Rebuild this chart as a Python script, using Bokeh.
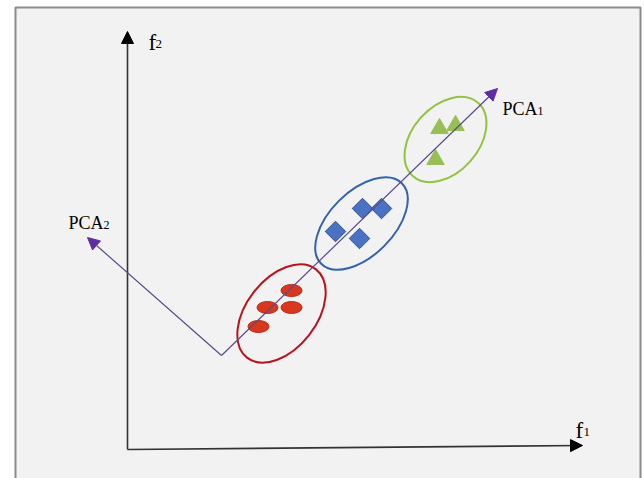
from bokeh.plotting import figure
from bokeh.models import Arrow, NormalHead, Range1d
from bokeh.core.properties import value
from bokeh.embed import file_html
from bokeh.resources import INLINE
import math

# --- data (feature space f1, f2) ---
red_f1 = [164, 140, 164, 131]
red_f2 = [159, 142, 142, 123]
blue_f1 = [235, 254, 208, 232]
blue_f2 = [241, 241, 218, 211]
green_f1 = [312, 328, 308]
green_f2 = [321, 324, 290]

cluster_x = [154, 234, 318]
cluster_y = [136, 226, 310]
cluster_w = [112, 114, 98]
cluster_h = [70, 64, 66]
cluster_angle_deg = [52, 45, 48]
cluster_color = ["#b8141c", "#3462ad", "#93c23f"]

pca_origin = (94, 94)
pca1_tip = (370, 361)
pca2_tip = (-40, 212)
f1_tip = (455, 4)
f2_tip = (0, 418)

labels_main = ["f", "f", "PCA", "PCA"]
labels_sub = ["1", "2", "1", "2"]

# background panel bounds (decoration)
panel_left, panel_right, panel_top, panel_bottom = -112, 513, 442, -60

W, H = 644, 478
p = figure(width=W, height=H, output_backend="svg", toolbar_location=None,
           x_axis_type=None, y_axis_type=None,
           x_range=Range1d(-127, 517), y_range=Range1d(-29, 449),
           min_border_left=0, min_border_right=0, min_border_top=0, min_border_bottom=0)
p.border_fill_color = "white"
p.background_fill_color = "white"
p.outline_line_color = None

p.quad(left=[panel_left], right=[panel_right], top=[panel_top], bottom=[panel_bottom],
       fill_color="#f2f2f2", line_color="#8a8a8a", line_width=2)

# cluster ellipses
p.ellipse(x=cluster_x, y=cluster_y, width=cluster_w, height=cluster_h,
          angle=[math.radians(a) for a in cluster_angle_deg],
          fill_color=None, line_color=cluster_color, line_width=2)

# points
p.ellipse(x=red_f1, y=red_f2, width=21, height=12, fill_color="#d8391e",
          line_color="#b52a14", line_width=1)
p.scatter(x=blue_f1, y=blue_f2, marker="square", angle=math.pi / 4, size=14.5,
          fill_color="#4a72c4", line_color="#2f4f8f", line_width=1)
p.scatter(x=green_f1, y=green_f2, marker="triangle", size=17.5,
          fill_color="#98bf55", line_color="#98bf55", line_width=1)

# axes arrows
axis_col = "#333333"
for tip in (f1_tip, f2_tip):
    p.add_layout(Arrow(x_start=0, y_start=0, x_end=tip[0], y_end=tip[1],
                       line_color=axis_col, line_width=1.6,
                       end=NormalHead(size=12, fill_color="black", line_color="black", line_width=1)))

# PCA arrows
pca_line = "#5a4a8c"
pca_head = "#5b2fa3"
for tip in (pca1_tip, pca2_tip):
    p.add_layout(Arrow(x_start=pca_origin[0], y_start=pca_origin[1], x_end=tip[0], y_end=tip[1],
                       line_color=pca_line, line_width=1.2,
                       end=NormalHead(size=12, fill_color=pca_head, line_color=pca_head, line_width=1)))

# labels
lab_x = [448, 21, 375, -59]
lab_y = [19, 407, 341, 227]
main_size = ["23px", "23px", "18px", "18px"]
sub_size = ["13px", "13px", "12px", "12px"]
sub_dx = [8, 7, 35, 35]
sub_dy = [1, 1, 2, 2]
font = value("Liberation Serif")
for i in range(4):
    p.text(x=[lab_x[i]], y=[lab_y[i]], text=[labels_main[i]], text_font=font,
           text_font_size=main_size[i], text_color="black", text_baseline="alphabetic", text_align="left")
    p.text(x=[lab_x[i]], y=[lab_y[i]], text=[labels_sub[i]], text_font=font,
           text_font_size=sub_size[i], text_color="black", text_baseline="alphabetic", text_align="left",
           x_offset=sub_dx[i], y_offset=sub_dy[i])

open("out.html", "w").write(file_html(p, INLINE))
